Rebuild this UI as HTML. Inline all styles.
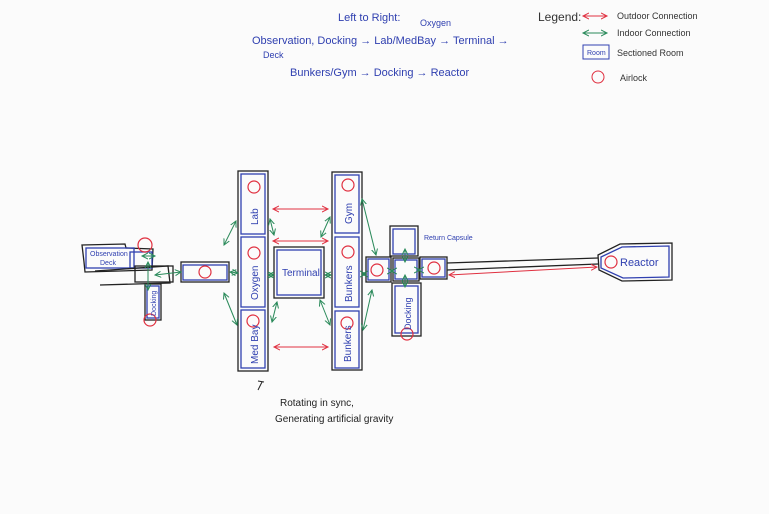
<!DOCTYPE html>
<html><head><style>
html,body{margin:0;padding:0;background:#fbfbfb;}
svg{display:block;}
text{font-family:"Liberation Sans",sans-serif;}
</style></head><body>
<svg width="769" height="514" viewBox="0 0 769 514" xmlns="http://www.w3.org/2000/svg">
<defs>
<marker id="r" markerWidth="8" markerHeight="8" refX="6" refY="4" orient="auto-start-reverse"><path d="M0,1 L6,4 L0,7" fill="none" stroke="#e03040" stroke-width="1"/></marker>
<marker id="g" markerWidth="8" markerHeight="8" refX="6" refY="4" orient="auto-start-reverse"><path d="M0,1 L6,4 L0,7" fill="none" stroke="#2a8a5a" stroke-width="1"/></marker>
</defs>
<rect width="769" height="514" fill="#fbfbfb"/>
<!-- top text -->
<g fill="#3040b0" font-size="11">
<text x="338" y="21">Left to Right:</text>
<text x="420" y="26" font-size="9">Oxygen</text>
<text x="252" y="44">Observation, Docking → Lab/MedBay → Terminal →</text>
<text x="263" y="58" font-size="9">Deck</text>
<text x="290" y="76">Bunkers/Gym → Docking → Reactor</text>
</g>
<!-- legend -->
<g font-size="9" fill="#333">
<text x="538" y="21" font-size="12">Legend:</text>
<line x1="583" y1="16" x2="607" y2="16" stroke="#e03040" marker-start="url(#r)" marker-end="url(#r)"/>
<text x="617" y="19">Outdoor Connection</text>
<line x1="583" y1="33" x2="607" y2="33" stroke="#2a8a5a" marker-start="url(#g)" marker-end="url(#g)"/>
<text x="617" y="36">Indoor Connection</text>
<rect x="583" y="45" width="26" height="14" fill="none" stroke="#3040b0"/>
<text x="587" y="55" font-size="7" fill="#3040b0">Room</text>
<text x="617" y="56">Sectioned Room</text>
<circle cx="598" cy="77" r="6" fill="none" stroke="#e03040"/>
<text x="620" y="81">Airlock</text>
</g>
<g fill="none" stroke-width="1.3">
<!-- left column -->
<rect x="238" y="171" width="30" height="200" stroke="#222"/>
<rect x="241" y="174" width="24" height="60" stroke="#3040b0"/>
<rect x="241" y="237" width="24" height="70" stroke="#3040b0"/>
<rect x="241" y="310" width="24" height="58" stroke="#3040b0"/>
<!-- right column -->
<rect x="332" y="172" width="30" height="198" stroke="#222"/>
<rect x="335" y="175" width="24" height="58" stroke="#3040b0"/>
<rect x="335" y="237" width="24" height="70" stroke="#3040b0"/>
<rect x="335" y="311" width="24" height="57" stroke="#3040b0"/>
<!-- terminal -->
<rect x="274" y="247" width="50" height="51" stroke="#222"/>
<rect x="277" y="250" width="44" height="45" stroke="#3040b0"/>
<!-- left section -->
<path d="M82,245 L125,244 L126,248 L153,249 L152,270 L85,272 L84,262 Z" stroke="#222"/>
<rect x="86" y="248" width="48" height="20" stroke="#3040b0"/>
<rect x="130" y="252" width="22" height="16" stroke="#3040b0"/>
<path d="M95,271 L168,266 L170,283 L100,285" stroke="#222"/>
<rect x="135" y="266" width="38" height="16" stroke="#222"/>
<rect x="145" y="284" width="16" height="36" stroke="#222"/>
<rect x="147" y="286" width="12" height="32" stroke="#3040b0"/>
<rect x="181" y="262" width="48" height="20" stroke="#222"/>
<rect x="183" y="265" width="44" height="15" stroke="#3040b0"/>
<!-- hub -->
<rect x="366" y="257" width="25" height="25" stroke="#222"/>
<rect x="368" y="259" width="21" height="21" stroke="#3040b0"/>
<rect x="393" y="258" width="26" height="23" stroke="#222"/>
<rect x="395" y="260" width="22" height="19" stroke="#3040b0"/>
<rect x="420" y="257" width="27" height="22" stroke="#222"/>
<rect x="422" y="259" width="23" height="18" stroke="#3040b0"/>
<rect x="390" y="226" width="28" height="30" stroke="#222"/>
<rect x="393" y="229" width="22" height="25" stroke="#3040b0"/>
<rect x="392" y="283" width="29" height="53" stroke="#222"/>
<rect x="395" y="286" width="23" height="47" stroke="#3040b0"/>
<!-- tube and reactor -->
<path d="M447,263 L598,258 M447,270 L598,264" stroke="#222"/>
<path d="M598,255 L620,244 L672,243 L672,280 L622,281 L599,270 Z" stroke="#222"/>
<path d="M601,257 L622,247 L669,246 L669,277 L623,278 L601,268 Z" stroke="#3040b0"/>
</g>
<!-- airlocks -->
<g fill="none" stroke="#e03040" stroke-width="1.2">
<circle cx="254" cy="187" r="6"/><circle cx="254" cy="253" r="6"/><circle cx="253" cy="321" r="6"/>
<circle cx="348" cy="185" r="6"/><circle cx="348" cy="252" r="6"/><circle cx="347" cy="323" r="6"/>
<circle cx="145" cy="245" r="7"/><circle cx="150" cy="320" r="6"/>
<circle cx="205" cy="272" r="6"/>
<circle cx="377" cy="270" r="6"/><circle cx="434" cy="268" r="6"/>
<circle cx="407" cy="334" r="6"/><circle cx="611" cy="262" r="6"/>
</g>
<!-- red arrows -->
<g stroke="#e03040" stroke-width="1" marker-start="url(#r)" marker-end="url(#r)">
<line x1="273" y1="209" x2="328" y2="209"/>
<line x1="273" y1="241" x2="328" y2="241"/>
<line x1="274" y1="347" x2="328" y2="347"/>
<line x1="449" y1="275" x2="597" y2="267"/>
</g>
<!-- green arrows -->
<g stroke="#2a8a5a" stroke-width="1" marker-start="url(#g)" marker-end="url(#g)">
<line x1="224" y1="245" x2="236" y2="221"/>
<line x1="230" y1="272" x2="238" y2="273"/>
<line x1="224" y1="293" x2="237" y2="325"/>
<line x1="270" y1="219" x2="274" y2="235"/>
<line x1="330" y1="217" x2="321" y2="237"/>
<line x1="268" y1="275" x2="274" y2="275"/>
<line x1="325" y1="275" x2="331" y2="275"/>
<line x1="272" y1="322" x2="277" y2="302"/>
<line x1="320" y1="300" x2="330" y2="325"/>
<line x1="362" y1="199" x2="376" y2="255"/>
<line x1="362" y1="274" x2="366" y2="274"/>
<line x1="363" y1="330" x2="372" y2="290"/>
<line x1="391" y1="271" x2="393" y2="271"/>
<line x1="418" y1="270" x2="420" y2="270"/>
<line x1="405" y1="249" x2="405" y2="262"/>
<line x1="405" y1="275" x2="405" y2="287"/>
<line x1="155" y1="275" x2="181" y2="272"/>
<line x1="142" y1="256" x2="155" y2="256"/>
<line x1="148" y1="262" x2="148" y2="290"/>
</g>
<!-- labels -->
<g fill="#3040b0" font-size="10">
<text transform="translate(258,225) rotate(-90)">Lab</text>
<text transform="translate(258,300) rotate(-90)">Oxygen</text>
<text transform="translate(258,364) rotate(-90)">Med Bay</text>
<text transform="translate(352,224) rotate(-90)">Gym</text>
<text transform="translate(352,302) rotate(-90)">Bunkers</text>
<text transform="translate(351,362) rotate(-90)">Bunkers</text>
<text x="282" y="276">Terminal</text>
<text x="424" y="240" font-size="7">Return Capsule</text>
<text transform="translate(411,330) rotate(-90)" font-size="9">Docking</text>
<text x="620" y="266" font-size="11">Reactor</text>
<text x="90" y="256" font-size="7">Observation</text>
<text x="100" y="265" font-size="7">Deck</text>
<text transform="translate(156,316) rotate(-90)" font-size="7">Docking</text>
</g>
<g fill="#222" font-size="10">
<path d="M262,382 L258,390 M258,381 L264,382" stroke="#222" fill="none"/>
<text x="280" y="406">Rotating in sync,</text>
<text x="275" y="422">Generating artificial gravity</text>
</g>
</svg>
</body></html>
